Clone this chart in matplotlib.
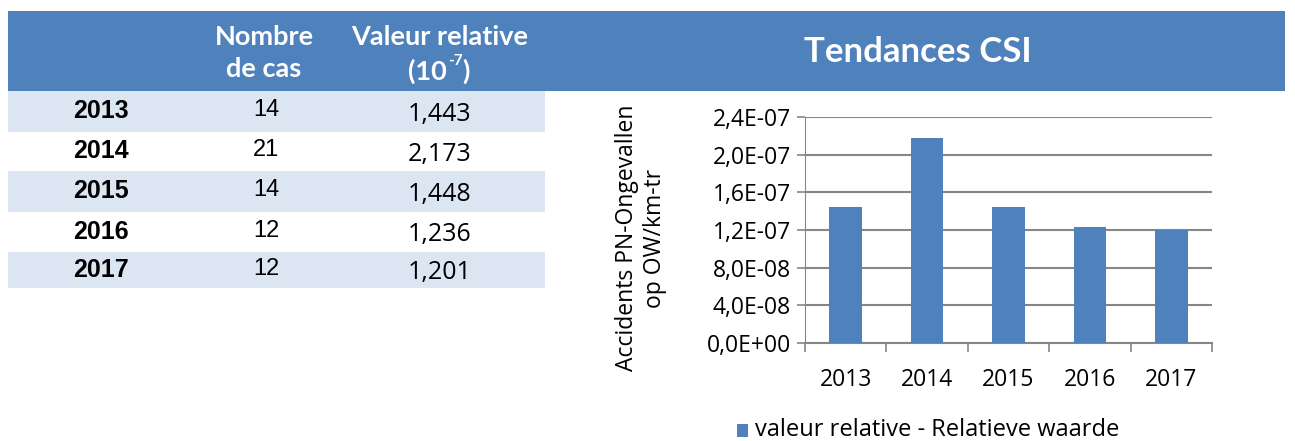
import matplotlib.pyplot as plt
from matplotlib.patches import Rectangle
from matplotlib.ticker import FuncFormatter

years = ['2013', '2014', '2015', '2016', '2017']
cases = [14, 21, 14, 12, 12]
relative = ['1,443', '2,173', '1,448', '1,236', '1,201']
relative_values = [1.443e-7, 2.173e-7, 1.448e-7, 1.236e-7, 1.201e-7]

blue = '#4F81BD'
light = '#DCE6F2'
W, H = 1295, 441

fig = plt.figure(figsize=(W / 100, H / 100), dpi=100)

# background axes in pixel coordinates for the table and header band
bg = fig.add_axes([0, 0, 1, 1])
bg.set_xlim(0, W)
bg.set_ylim(H, 0)
bg.axis('off')

bg.add_patch(Rectangle((8, 11), 1277, 80, color=blue, lw=0))
hdr = dict(color='white', fontsize=19.5, fontweight='bold', family='Lato', va='center')
bg.text(264, 37, 'Nombre', ha='center', **hdr)
bg.text(264, 69, 'de cas', ha='center', **hdr)
bg.text(440, 37, 'Valeur relative', ha='center', **hdr)
# (10^-7) built from pieces so the exponent keeps a short hyphen
bg.text(447, 71, '(10', ha='right', **hdr)
bg.text(448, 61, '-7', ha='left', color='white', fontsize=11, fontweight='bold',
        family='Lato', va='center')
bg.text(462, 71, ')', ha='left', **hdr)
bg.text(918, 52, 'Tendances CSI', color='white', fontsize=25, fontweight='bold',
        family='Lato', ha='center', va='center')

row_edges = [91, 132, 171, 212, 252, 288]
for i, y in enumerate(years):
    top, bot = row_edges[i], row_edges[i + 1]
    if i % 2 == 0:
        bg.add_patch(Rectangle((8, top), 537, bot - top, color=light, lw=0))
    yc = (top + bot) / 2
    bg.text(101, yc, y, fontsize=18, fontweight='bold', family='Liberation Sans',
            ha='center', va='center')
    bg.text(266, yc - 1, str(cases[i]), fontsize=17, family='Liberation Sans',
            ha='center', va='center')
    bg.text(440, yc + 3, relative[i], fontsize=18, family='Open Sans',
            ha='center', va='center')

# bar chart
ax = fig.add_axes([805 / W, (H - 343) / H, (1212 - 805) / W, (343 - 117) / H])
x = list(range(len(years)))
ax.bar(x, relative_values, width=0.4, color=blue, zorder=3)
ax.set_xlim(-0.5, 4.5)
ax.set_ylim(0, 2.4e-7)
ax.set_yticks([i * 4e-8 for i in range(7)])
ax.yaxis.set_major_formatter(FuncFormatter(lambda v, p: f'{v:.1E}'.replace('.', ',')))
ax.set_xticks(x)
ax.set_xticklabels(years)
ax.set_xticks([i - 0.5 for i in range(6)], minor=True)
ax.tick_params(axis='x', which='major', length=0, pad=18, labelsize=16.5)
ax.tick_params(axis='x', which='minor', length=6.5, color='#868686', width=1.2)
ax.tick_params(axis='y', length=6, color='#868686', width=1.2, labelsize=16.5, pad=4)
for lab in ax.get_xticklabels() + ax.get_yticklabels():
    lab.set_family('Open Sans')
ax.grid(axis='y', color='#868686', lw=1.5, zorder=0)
for s in ['top', 'right']:
    ax.spines[s].set_visible(False)
ax.spines['left'].set_color('#868686')
ax.spines['bottom'].set_color('#868686')
ax.spines['bottom'].set_linewidth(1.5)

bg.text(641, 238, 'Accidents PN-Ongevallen\nop OW/km-tr', rotation=90,
        fontsize=16.5, family='Open Sans', ha='center', va='center',
        multialignment='center', linespacing=1.2)

# legend
bg.add_patch(Rectangle((737, 424), 11, 13, color=blue, lw=0))
bg.text(755, 430, 'valeur relative - Relatieve waarde', fontsize=17,
        family='Open Sans', ha='left', va='center')

fig.savefig('out.png', dpi=100)
